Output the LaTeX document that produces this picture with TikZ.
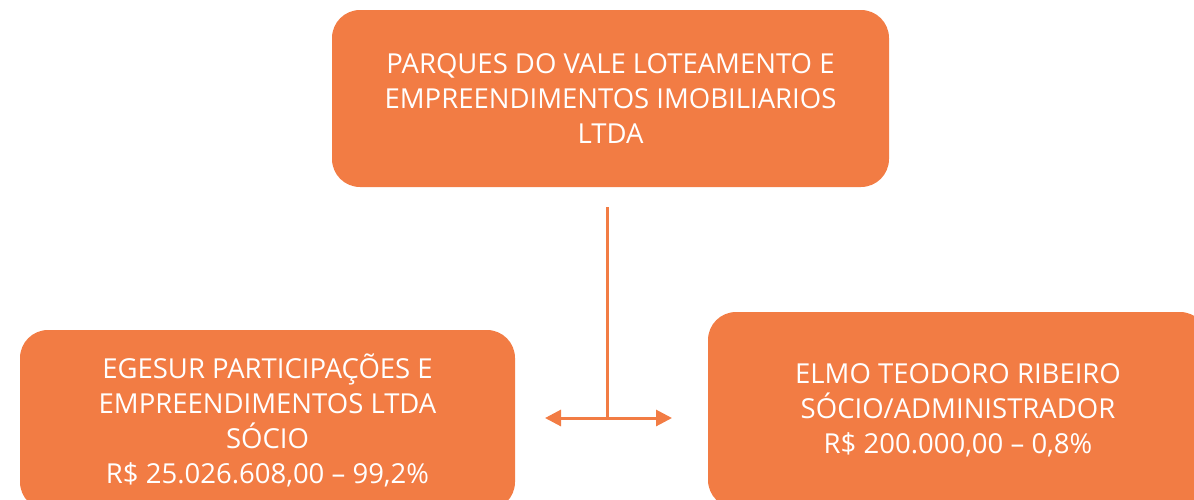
\documentclass[tikz,border=0pt]{standalone}
\usepackage{fontspec}
\setmainfont{Open Sans}
\usetikzlibrary{arrows.meta}
\definecolor{orng}{RGB}{242,124,68}
\begin{document}
\begin{tikzpicture}[x=1pt,y=-1pt,
  box/.style={fill=orng,draw=none,rounded corners=28pt,text=white,align=center,
    font=\fontsize{27.5}{35}\selectfont,inner sep=0pt},
  link/.style={draw=orng,line width=3pt}]
\useasboundingbox (0,0) rectangle (1194,499);
\clip (0,0) rectangle (1194,499);
\node[box,minimum width=557pt,minimum height=177pt] (top) at (610.5,98.5)
  {PARQUES DO VALE LOTEAMENTO E\\EMPREENDIMENTOS IMOBILIARIOS\\LTDA};
\node[box,minimum width=495pt,minimum height=180pt] (left) at (267.5,420)
  {EGESUR PARTICIPAÇÕES E\\EMPREENDIMENTOS LTDA\\SÓCIO\\R\$ 25.026.608,00 – 99,2\%};
\node[box,minimum width=500pt,minimum height=196pt] (right) at (958,410)
  {ELMO TEODORO RIBEIRO\\SÓCIO/ADMINISTRADOR\\R\$ 200.000,00 – 0,8\%};
\coordinate (j) at (607,418);
\coordinate (s) at (607,207);
\coordinate (la) at (545,418);
\coordinate (ra) at (672,418);
\draw[link] (s) -- (j);
\draw[link,{Triangle[length=16pt,width=16pt]}-{Triangle[length=16pt,width=16pt]}] (la) -- (ra);
\end{tikzpicture}
\end{document}
